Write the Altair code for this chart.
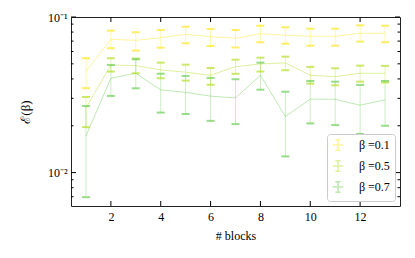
import altair as alt
import pandas as pd

blocks = list(range(1, 14))
series_names = ["β =0.1", "β =0.5", "β =0.7"]
colors = ["#fde725", "#b5de2b", "#6ece58"]

mean_01 = [0.0447, 0.0719, 0.0708, 0.0736, 0.0774, 0.0747, 0.0730, 0.0781, 0.0763, 0.0752, 0.0752, 0.0786, 0.0786]
low_01 = [0.0349, 0.0630, 0.0608, 0.0635, 0.0678, 0.0651, 0.0637, 0.0688, 0.0674, 0.0654, 0.0654, 0.0694, 0.0688]
high_01 = [0.0543, 0.0817, 0.0798, 0.0825, 0.0866, 0.0838, 0.0825, 0.0879, 0.0859, 0.0841, 0.0841, 0.0885, 0.0879]

mean_05 = [0.0260, 0.0492, 0.0487, 0.0457, 0.0442, 0.0422, 0.0480, 0.0499, 0.0507, 0.0422, 0.0414, 0.0435, 0.0435]
low_05 = [0.0196, 0.0446, 0.0435, 0.0404, 0.0390, 0.0367, 0.0431, 0.0446, 0.0455, 0.0373, 0.0364, 0.0384, 0.0379]
high_05 = [0.0306, 0.0543, 0.0541, 0.0509, 0.0494, 0.0470, 0.0532, 0.0548, 0.0556, 0.0478, 0.0468, 0.0487, 0.0485]

mean_07 = [0.0172, 0.0404, 0.0435, 0.0340, 0.0328, 0.0310, 0.0302, 0.0422, 0.0229, 0.0297, 0.0296, 0.0271, 0.0294]
low_07 = [0.00695, 0.0311, 0.0348, 0.0243, 0.0238, 0.0215, 0.0205, 0.0341, 0.0127, 0.0207, 0.0202, 0.0177, 0.0200]
high_07 = [0.0268, 0.0492, 0.0535, 0.0432, 0.0418, 0.0406, 0.0398, 0.0509, 0.0331, 0.0388, 0.0384, 0.0366, 0.0388]

major_y = [0.01, 0.1]
minor_y = [0.007, 0.008, 0.009, 0.02, 0.03, 0.04, 0.05, 0.06, 0.07, 0.08, 0.09]
major_x = [2, 4, 6, 8, 10, 12]

rows = []
for name, m, lo, hi in zip(series_names, [mean_01, mean_05, mean_07], [low_01, low_05, low_07], [high_01, high_05, high_07]):
    for b, a, l, h in zip(blocks, m, lo, hi):
        rows.append({"series": name, "blocks": b, "mean": a, "low": l, "high": h})
df = pd.DataFrame(rows)

W, H = 329, 189
FONT = "Liberation Serif"

xs = alt.Scale(domain=[0.4, 13.6], nice=False, zero=False)
ys = alt.Scale(type="log", domain=[0.0061, 0.1], nice=False)
cs = alt.Scale(domain=series_names, range=colors)

base = alt.Chart(df)

x_enc = alt.X("blocks:Q", scale=xs, title="# blocks",
              axis=alt.Axis(values=major_x, ticks=False, domain=False, grid=False,
                            labelPadding=5, titlePadding=8, labelFontSize=12, titleFontSize=12,
                            labelFont=FONT, titleFont=FONT, titleFontWeight="normal"))
y_axis = alt.Axis(values=major_y, ticks=False, domain=False, grid=False,
                  labelExpr="datum.value > 0.05 ? '10⁻¹' : '10⁻²'",
                  labelPadding=4, titlePadding=15, labelFontSize=12, titleFontSize=13,
                  labelFont=FONT, titleFont=FONT, titleFontWeight="normal")

lines = base.mark_line(strokeWidth=1, opacity=0.45).encode(
    x=x_enc,
    y=alt.Y("mean:Q", scale=ys, title="ℰ(β)", axis=y_axis),
    color=alt.Color("series:N", scale=cs, title=None,
                    legend=alt.Legend(orient="bottom-right", offset=5, padding=5,
                                      strokeColor="#cccccc", fillColor="white", cornerRadius=3,
                                      labelFont=FONT, labelFontSize=12, labelColor="black",
                                      symbolType="M-0.5,-1H0.5M-0.5,1H0.5M0,-1V1M-1,0H1",
                                      symbolSize=110, symbolStrokeWidth=1.5, rowPadding=3,
                                      labelOffset=15)),
    detail="series:N",
)

stems = base.mark_rule(strokeWidth=1, opacity=0.35).encode(
    x=alt.X("blocks:Q", scale=xs), y=alt.Y("low:Q", scale=ys), y2="high:Q",
    color=alt.Color("series:N", scale=cs, legend=None),
)
caps_lo = base.mark_tick(orient="horizontal", size=8, thickness=2).encode(
    x=alt.X("blocks:Q", scale=xs), y=alt.Y("low:Q", scale=ys),
    color=alt.Color("series:N", scale=cs, legend=None),
)
caps_hi = base.mark_tick(orient="horizontal", size=8, thickness=2).encode(
    x=alt.X("blocks:Q", scale=xs), y=alt.Y("high:Q", scale=ys),
    color=alt.Color("series:N", scale=cs, legend=None),
)

ymaj = alt.Chart(pd.DataFrame({"v": major_y}))
ymin = alt.Chart(pd.DataFrame({"v": minor_y}))
xmaj = alt.Chart(pd.DataFrame({"v": major_x}))

yv = alt.Y("v:Q", scale=ys)
xv = alt.X("v:Q", scale=xs)
tick_layers = [
    ymaj.mark_rule(color="black", strokeWidth=1).encode(y=yv, x=alt.value(0), x2=alt.value(5)),
    ymaj.mark_rule(color="black", strokeWidth=1).encode(y=yv, x=alt.value(W - 5), x2=alt.value(W)),
    ymin.mark_rule(color="black", strokeWidth=1).encode(y=yv, x=alt.value(0), x2=alt.value(2.5)),
    ymin.mark_rule(color="black", strokeWidth=1).encode(y=yv, x=alt.value(W - 2.5), x2=alt.value(W)),
    xmaj.mark_rule(color="black", strokeWidth=1).encode(x=xv, y=alt.value(H - 5), y2=alt.value(H)),
    xmaj.mark_rule(color="black", strokeWidth=1).encode(x=xv, y=alt.value(0), y2=alt.value(5)),
]

chart = alt.layer(lines, stems, caps_lo, caps_hi, *tick_layers).properties(
    width=W, height=H,
    background="white",
    autosize=alt.AutoSizeParams(type="none"),
    padding={"left": 63, "top": 9, "right": 7, "bottom": 44},
).configure_view(stroke="#222222", strokeWidth=1).configure_axis(
    labelFont=FONT, titleFont=FONT, titleFontWeight="normal",
    labelColor="black", titleColor="black",
).configure_axisX(
    labelFont=FONT, titleFont=FONT, titleFontWeight="normal",
    labelColor="black", titleColor="black",
)

chart.save("out.html", embed_options={"renderer": "svg", "actions": False})
